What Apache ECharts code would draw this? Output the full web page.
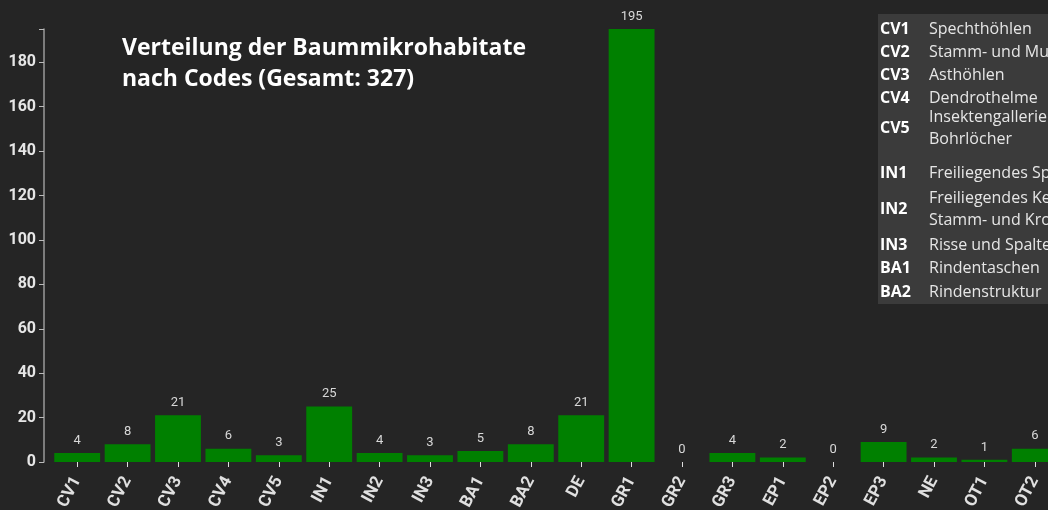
<!DOCTYPE html>
<html><head><meta charset="utf-8">
<script src="https://cdn.jsdelivr.net/npm/echarts@6/dist/echarts.min.js"></script>
<style>html,body{margin:0;padding:0;background:#252525;overflow:hidden}#c{width:1048px;height:510px}</style>
</head><body><div id="c"></div>
<script>
const categories = ['CV1','CV2','CV3','CV4','CV5','IN1','IN2','IN3','BA1','BA2','DE','GR1','GR2','GR3','EP1','EP2','EP3','NE','OT1','OT2'];
const counts = [4,8,21,6,3,25,4,3,5,8,21,195,0,4,2,0,9,2,1,6];
const yTicks = [0,20,40,60,80,100,120,140,160,180];
const legendCodes = ['CV1','CV2','CV3','CV4','CV5','IN1','IN2','IN3','BA1','BA2'];
const legendTexts = ['Spechthöhlen','Stamm- und Mulmhöhlen','Asthöhlen','Dendrothelme','Insektengallerien und\nBohrlöcher','Freiliegendes Splintholz','Freiliegendes Kernholz /\nStamm- und Kronenbruch','Risse und Spalten','Rindentaschen','Rindenstruktur'];
const titleLines = ['Verteilung der Baummikrohabitate','nach Codes (Gesamt: 327)'];

const chart = echarts.init(document.getElementById('c'));

const rowY = [29,52,75,98,128,173,209,245,268,292];
const legendEls = [{type:'rect',shape:{x:878,y:14,width:200,height:290},style:{fill:'#3b3b3b'},z:10}];
legendCodes.forEach((c,i)=>{
  legendEls.push({type:'text',x:880,y:rowY[i],z:11,style:{text:c,fill:'#ffffff',font:'bold 16px "Open Sans"',textVerticalAlign:'middle'}});
  legendEls.push({type:'text',x:929,y:rowY[i],z:11,style:{text:legendTexts[i],fill:'#e6e6e6',font:'16px "Open Sans"',textVerticalAlign:'middle',lineHeight:22}});
});

chart.setOption({
  backgroundColor:'#252525',
  animation:false,
  grid:{left:52,right:-12,top:29,bottom:48,containLabel:false,outerBoundsMode:'none'},
  xAxis:{type:'category',data:categories,
    axisLine:{show:false},
    axisTick:{show:true,alignWithLabel:true,length:5,lineStyle:{color:'#dddddd'}},
    axisLabel:{rotate:62,color:'#e0e0e0',fontFamily:'Roboto',fontWeight:'bold',fontSize:17,margin:16,interval:0}},
  yAxis:{type:'value',min:0,max:'dataMax',interval:20,offset:8,
    splitLine:{show:false},
    axisLine:{show:true,lineStyle:{color:'#9a9a9a',width:1.5}},
    axisTick:{show:true,length:5,lineStyle:{color:'#bbbbbb'}},
    axisLabel:{color:'#e6e6e6',fontFamily:'Roboto',fontWeight:'bold',fontSize:16,margin:8,
      formatter:v=>yTicks.includes(v)?String(v):''}},
  series:[{type:'bar',data:counts,barCategoryGap:'9%',
    itemStyle:{color:'#008000'},
    label:{show:true,position:'top',color:'#d8d8d8',fontFamily:'Roboto',fontSize:13,distance:6}}],
  graphic:[
    {type:'text',left:122,top:33,style:{text:titleLines.join('\n'),fill:'#ffffff',font:'bold 23px "Open Sans"',lineHeight:31}},
    ...legendEls
  ]
});
</script></body></html>
